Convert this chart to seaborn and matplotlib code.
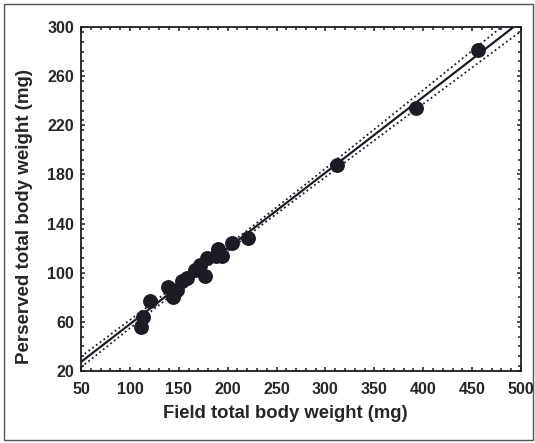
import numpy as np
import pandas as pd
import matplotlib
matplotlib.use("Agg")
import matplotlib.pyplot as plt
from matplotlib.patches import Rectangle
from matplotlib.ticker import MultipleLocator
import seaborn as sns

# Field vs. preserved total body weight (mg)
field_weight = [111, 113, 121, 139, 144, 148, 153, 158, 167, 172,
                177, 179, 188, 190, 194, 204, 221, 312, 393, 456]
preserved_weight = [56, 64, 77, 88, 80, 86, 93, 96, 102, 106,
                    97, 112, 114, 119, 114, 124, 128, 188, 234, 281]

x_ticks = [50, 100, 150, 200, 250, 300, 350, 400, 450, 500]
y_ticks = [20, 60, 100, 140, 180, 220, 260, 300]

sns.set_theme(style="ticks")
plt.rcParams["font.family"] = ["Liberation Sans", "DejaVu Sans"]
plt.rcParams["font.weight"] = "bold"

df = pd.DataFrame({"field": field_weight, "preserved": preserved_weight})

# Ordinary least squares fit with 95% confidence band for the mean
x = np.asarray(field_weight, float)
y = np.asarray(preserved_weight, float)
n = len(x)
slope, intercept = np.polyfit(x, y, 1)
resid = y - (slope * x + intercept)
s = np.sqrt(np.sum(resid ** 2) / (n - 2))
sxx = np.sum((x - x.mean()) ** 2)
t_crit = 2.101
grid = np.linspace(50, 500, 200)
fit = slope * grid + intercept
half = t_crit * s * np.sqrt(1.0 / n + (grid - x.mean()) ** 2 / sxx)
band = pd.DataFrame({"x": grid, "fit": fit, "lo": fit - half, "hi": fit + half})

fig = plt.figure(figsize=(5.35, 4.43), dpi=100)
ax = fig.add_axes([0.1514, 0.1625, 0.8224, 0.7765])

sns.lineplot(data=band, x="x", y="lo", ax=ax, color="#1c1c24", lw=1.3,
             linestyle=(0, (1, 1.6)))
sns.lineplot(data=band, x="x", y="hi", ax=ax, color="#1c1c24", lw=1.3,
             linestyle=(0, (1, 1.6)))
sns.lineplot(data=band, x="x", y="fit", ax=ax, color="#1c1c24", lw=1.6)
sns.scatterplot(data=df, x="field", y="preserved", ax=ax, s=115,
                color="#1c1c24", edgecolor="#1c1c24", linewidth=0, zorder=5)

ax.set_xlim(50, 500)
ax.set_ylim(20, 300)
ax.set_xticks(x_ticks)
ax.set_yticks(y_ticks)
ax.xaxis.set_minor_locator(MultipleLocator(10))
ax.yaxis.set_minor_locator(MultipleLocator(8))
ax.tick_params(which="both", direction="in", top=True, right=True,
               color="#1c1c24", labelsize=11.5)
ax.tick_params(axis="x", pad=8)
ax.tick_params(axis="y", pad=5)
ax.tick_params(which="major", length=3, width=1.1)
ax.tick_params(which="minor", length=2.5, width=1.1)
for lab in ax.get_xticklabels() + ax.get_yticklabels():
    lab.set_fontweight("bold")
for sp in ax.spines.values():
    sp.set_linewidth(1.3)
    sp.set_color("#1c1c24")

ax.set_xlabel("Field total body weight (mg)", fontsize=13.3, fontweight="bold")
ax.set_ylabel("Perserved total body weight (mg)", fontsize=13.5,
              fontweight="bold")
ax.xaxis.set_label_coords(0.4636, -0.099)
ax.yaxis.set_label_coords(-0.109, 0.45)

# thin frame around the whole figure
fig.patches.append(Rectangle((0.0075, 0.0068), 0.9888, 0.984,
                             transform=fig.transFigure, fill=False,
                             edgecolor="#555555", linewidth=1.0))

fig.savefig("out.png", dpi=100)
